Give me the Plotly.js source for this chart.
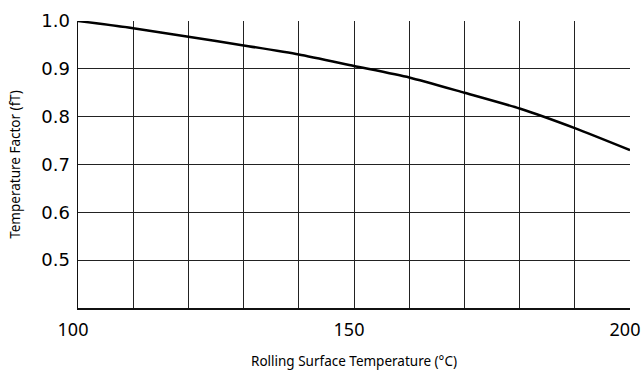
<!DOCTYPE html>
<html>
<head>
<meta charset="utf-8">
<script src="https://cdn.plot.ly/plotly-3.0.1.min.js"></script>
<style>html,body{margin:0;padding:0;background:#fff;}#chart{width:643px;height:371px;}</style>
</head>
<body>
<div id="chart"></div>
<script>
const temps = [100, 110, 120, 130, 140, 150, 160, 170, 180, 190, 200];
const factor = [1.0, 0.985, 0.967, 0.949, 0.930, 0.906, 0.882, 0.850, 0.817, 0.776, 0.730];
const xTickVals = [100, 110, 120, 130, 140, 150, 160, 170, 180, 190, 200];
const xTickText = ['100', '', '', '', '', '150', '', '', '', '', '200'];
const yTickVals = [0.5, 0.6, 0.7, 0.8, 0.9, 1.0];
const yTickText = ['0.5', '0.6', '0.7', '0.8', '0.9', '1.0'];

const font = "'Noto Sans', sans-serif";
Plotly.newPlot('chart', [{
  x: temps, y: factor, type: 'scatter', mode: 'lines',
  line: {color: '#000', width: 2.5, shape: 'spline', smoothing: 0.6},
  hoverinfo: 'none', showlegend: false
}], {
  width: 643, height: 371,
  margin: {l: 78, r: 13, t: 21, b: 63},
  paper_bgcolor: '#fff', plot_bgcolor: '#fff',
  font: {family: font, color: '#000'},
  xaxis: {
    range: [100, 200], tickvals: xTickVals, ticktext: xTickText,
    showgrid: true, gridcolor: '#222', gridwidth: 1,
    showline: true, linecolor: '#111', linewidth: 1.5,
    zeroline: false, ticks: '', ticklabelstandoff: 5, ticklabelshift: -5,
    ticklabeloverflow: 'allow',
    tickfont: {size: 18, family: font, color: '#000'},
    title: {text: 'Rolling Surface Temperature (°C)', font: {size: 13.5, family: font, color: '#000'}, standoff: 16}
  },
  yaxis: {
    range: [0.4, 1.0], tickvals: yTickVals, ticktext: yTickText,
    showgrid: true, gridcolor: '#222', gridwidth: 1,
    showline: true, linecolor: '#111', linewidth: 1.5,
    zeroline: false, ticks: '', ticklabelstandoff: 3,
    tickfont: {size: 18, family: "'DejaVu Sans', sans-serif", color: '#000'},
    title: {text: 'Temperature Factor (fT)', font: {size: 13.5, family: font, color: '#000'}, standoff: 17}
  }
}, {staticPlot: true});
</script>
</body>
</html>
